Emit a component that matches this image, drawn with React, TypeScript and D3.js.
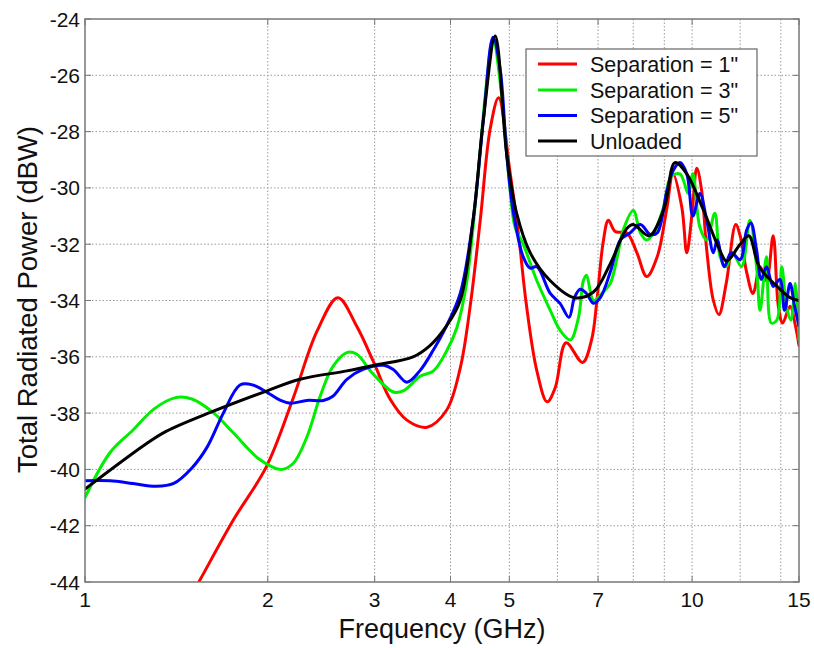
import React from "react";
import * as d3 from "d3";

const W = 814;
const H = 648;

const yTicks = [-44, -42, -40, -38, -36, -34, -32, -30, -28, -26, -24];
const xTickLabels = [1, 2, 3, 4, 5, 7, 10, 15];
const xGrid = [2, 3, 4, 5, 6, 7, 8, 9, 10, 12, 14];

const seriesNames = ['Separation = 1"', 'Separation = 3"', 'Separation = 5"', "Unloaded"];
const seriesColors = ["#ff0000", "#00ee00", "#0000ff", "#000000"];

const redF = [1.45, 1.54, 1.755, 1.99, 2.2, 2.41, 2.61, 2.8, 2.99, 3.18, 3.39, 3.66, 3.94, 4.15, 4.31, 4.48, 4.65, 4.8, 5.01, 5.18, 5.33, 5.55, 5.77, 5.95, 6.2, 6.6, 6.83, 6.97, 7.14, 7.28, 7.47, 7.81, 8.11, 8.42, 8.76, 9.09, 9.3, 9.62, 9.8, 10.0, 10.18, 10.37, 10.57, 10.84, 11.07, 11.38, 11.8, 12.0, 12.3, 12.6, 12.94, 13.26, 13.6, 13.87, 14.1, 14.5, 14.8, 15];
const redV = [-45, -44, -41.8, -39.9, -37.5, -35.1, -33.9, -34.9, -36.2, -37.5, -38.25, -38.5, -37.9, -36.4, -34.2, -31.1, -27.9, -26.8, -29.4, -31.7, -34.1, -36.5, -37.6, -37.1, -35.5, -36.2, -35.4, -34.0, -31.9, -31.15, -31.55, -31.6, -32.3, -33.15, -32.45, -30.7, -29.5, -30.7, -32.3, -30.9, -29.3, -30.1, -32.2, -34.0, -34.5, -33.4, -31.3, -31.7, -33.0, -33.75, -32.8, -33.3, -31.7, -34.2, -34.8, -34.2, -34.9, -35.6];

const greenF = [1, 1.1, 1.2, 1.3, 1.41, 1.5, 1.63, 1.755, 1.94, 2.1, 2.2, 2.32, 2.44, 2.56, 2.7, 2.8, 2.98, 3.22, 3.35, 3.56, 3.75, 3.94, 4.1, 4.25, 4.42, 4.58, 4.7, 4.85, 5.01, 5.11, 5.27, 5.55, 5.84, 6.06, 6.3, 6.5, 6.62, 6.7, 6.88, 7.1, 7.33, 7.53, 7.7, 8.0, 8.22, 8.42, 8.64, 8.97, 9.23, 9.55, 9.86, 10.03, 10.3, 10.57, 10.9, 11.12, 11.38, 11.66, 12.06, 12.45, 12.77, 12.94, 13.26, 13.5, 13.79, 14.05, 14.3, 14.55, 14.8, 15];
const greenV = [-41.0, -39.4, -38.6, -37.85, -37.45, -37.5, -38.0, -38.7, -39.65, -40.0, -39.8, -38.85, -37.4, -36.35, -35.85, -35.9, -36.6, -37.25, -37.2, -36.7, -36.5, -35.8, -34.95, -33.4, -30.0, -26.4, -24.7, -26.6, -30.0, -31.4, -32.0, -33.3, -34.35, -35.05, -35.4, -34.6, -33.3, -33.1, -34.0, -33.75, -33.4, -32.45, -31.5, -30.8, -31.6, -31.85, -31.6, -30.7, -29.6, -29.5, -30.2, -29.5, -31.4, -31.85, -30.9, -32.45, -32.8, -32.3, -32.8, -31.15, -32.8, -34.35, -32.45, -34.8, -34.7, -32.8, -34.2, -34.7, -33.4, -35.4];

const blueF = [1, 1.1, 1.2, 1.31, 1.4, 1.5, 1.59, 1.69, 1.8, 1.89, 1.99, 2.1, 2.18, 2.32, 2.47, 2.56, 2.7, 2.87, 3.1, 3.22, 3.39, 3.56, 3.75, 3.94, 4.15, 4.36, 4.53, 4.7, 4.83, 4.95, 5.08, 5.27, 5.41, 5.55, 5.84, 6.06, 6.27, 6.4, 6.54, 6.7, 6.88, 7.06, 7.33, 7.62, 7.9, 8.22, 8.53, 8.76, 9.09, 9.3, 9.55, 9.8, 10.03, 10.3, 10.57, 10.84, 11.0, 11.3, 11.6, 12.0, 12.3, 12.5, 12.77, 13.0, 13.26, 13.6, 13.95, 14.2, 14.5, 14.75, 15];
const blueV = [-40.4, -40.4, -40.5, -40.6, -40.5, -39.95, -39.2, -38.0, -37.0, -37.0, -37.25, -37.55, -37.65, -37.55, -37.55, -37.4, -36.8, -36.45, -36.3, -36.45, -36.9, -36.5, -35.75, -34.9, -33.75, -31.1, -27.6, -24.65, -25.8, -28.8, -30.9, -32.45, -32.85, -32.8, -33.75, -34.1, -34.6, -33.9, -33.6, -33.75, -34.1, -33.9, -33.0, -31.85, -31.6, -31.3, -31.65, -31.6, -30.1, -29.4, -29.1, -29.5, -31.0, -30.2, -31.15, -32.3, -31.85, -32.8, -32.3, -32.55, -31.5, -31.25, -32.2, -33.25, -32.8, -33.5, -33.25, -34.35, -33.4, -34.2, -34.9];

const blackF = [1, 1.26, 1.36, 1.62, 2.0, 2.26, 2.7, 3.0, 3.47, 3.7, 3.94, 4.15, 4.36, 4.53, 4.74, 4.95, 5.14, 5.41, 5.84, 6.4, 6.88, 7.33, 7.8, 8.0, 8.5, 9.0, 9.37, 9.8, 10.4, 11.1, 11.4, 12.0, 12.4, 12.9, 13.8, 14.5, 15];
const blackV = [-40.7, -39.1, -38.65, -37.95, -37.2, -36.8, -36.5, -36.3, -36.0, -35.6, -34.9, -34.0, -31.1, -27.6, -24.6, -28.8, -30.9, -32.3, -33.3, -33.9, -33.7, -32.7, -31.45, -31.3, -31.7, -30.7, -29.1, -29.5, -30.7, -32.2, -32.6, -32.0, -31.7, -32.8, -33.5, -33.9, -34.0];

const seriesF = [redF, greenF, blueF, blackF];
const seriesV = [redV, greenV, blueV, blackV];

const M = { left: 85, right: 799, top: 19, bottom: 582 };
const FONT = "'Liberation Sans', Arial, Helvetica, sans-serif";

export default function App() {
  const x = d3.scaleLog().domain([1, 15]).range([M.left, M.right]);
  const y = d3.scaleLinear().domain([-44, -24]).range([M.bottom, M.top]);
  const line = d3
    .line<[number, number]>()
    .x((d) => x(d[0]))
    .y((d) => y(d[1]))
    .curve(d3.curveCatmullRom.alpha(0.5));

  const pw = M.right - M.left;
  const ph = M.bottom - M.top;

  const legX = 526, legY = 49, legW = 231, legH = 107;
  const legRows = [64, 90, 115.5, 141];

  return (
    <svg
      width={W}
      height={H}
      style={{ position: "absolute", left: 0, top: 0, background: "#fff" }}
      fontFamily={FONT}
    >
      <defs>
        <clipPath id="plotclip">
          <rect x={M.left} y={M.top} width={pw} height={ph} />
        </clipPath>
      </defs>
      <rect x={0} y={0} width={W} height={H} fill="#fff" />
      {/* grid */}
      {xGrid.map((g) => (
        <line
          key={"xg" + g}
          x1={x(g)}
          x2={x(g)}
          y1={M.top}
          y2={M.bottom}
          stroke="#999"
          strokeWidth={1}
          strokeDasharray="1.5,2"
        />
      ))}
      {yTicks.slice(1, -1).map((t) => (
        <line
          key={"yg" + t}
          x1={M.left}
          x2={M.right}
          y1={y(t)}
          y2={y(t)}
          stroke="#999"
          strokeWidth={1}
          strokeDasharray="1.5,2"
        />
      ))}
      {/* ticks */}
      {yTicks.map((t) => (
        <g key={"yt" + t}>
          <line x1={M.left} x2={M.left + 6} y1={y(t)} y2={y(t)} stroke="#777" />
          <line x1={M.right} x2={M.right - 6} y1={y(t)} y2={y(t)} stroke="#777" />
          <text
            x={M.left - 5}
            y={y(t)}
            dy="0.36em"
            textAnchor="end"
            fontSize={21}
            fill="#111"
          >
            {t}
          </text>
        </g>
      ))}
      {xTickLabels.map((t) => (
        <g key={"xt" + t}>
          <line x1={x(t)} x2={x(t)} y1={M.bottom} y2={M.bottom - 6} stroke="#777" />
          <line x1={x(t)} x2={x(t)} y1={M.top} y2={M.top + 6} stroke="#777" />
          <text x={x(t)} y={607} textAnchor="middle" fontSize={21} fill="#111">
            {t}
          </text>
        </g>
      ))}
      {/* series */}
      <g clipPath="url(#plotclip)">
        {seriesF.map((fs, i) => (
          <path
            key={"s" + i}
            d={line(fs.map((f, j) => [f, seriesV[i][j]] as [number, number])) || ""}
            fill="none"
            stroke={seriesColors[i]}
            strokeWidth={3}
            strokeLinejoin="round"
            strokeLinecap="round"
          />
        ))}
      </g>
      {/* frame */}
      <rect
        x={M.left}
        y={M.top}
        width={pw}
        height={ph}
        fill="none"
        stroke="#777"
        strokeWidth={1.5}
      />
      {/* legend */}
      <rect
        x={legX}
        y={legY}
        width={legW}
        height={legH}
        fill="#fff"
        stroke="#666"
        strokeWidth={1.2}
      />
      {seriesNames.map((n, i) => (
        <g key={"lg" + i}>
          <line
            x1={538}
            x2={577}
            y1={legRows[i]}
            y2={legRows[i]}
            stroke={seriesColors[i]}
            strokeWidth={3}
          />
          <text x={590} y={legRows[i]} dy="0.36em" fontSize={21.5} fill="#111">
            {n}
          </text>
        </g>
      ))}
      {/* axis titles */}
      <text x={(M.left + M.right) / 2} y={638} textAnchor="middle" fontSize={27} fill="#111">
        Frequency (GHz)
      </text>
      <text
        transform={`translate(37, ${(M.top + M.bottom) / 2 - 1}) rotate(-90)`}
        textAnchor="middle"
        fontSize={27.5}
        fill="#111"
      >
        Total Radiated Power (dBW)
      </text>
    </svg>
  );
}
